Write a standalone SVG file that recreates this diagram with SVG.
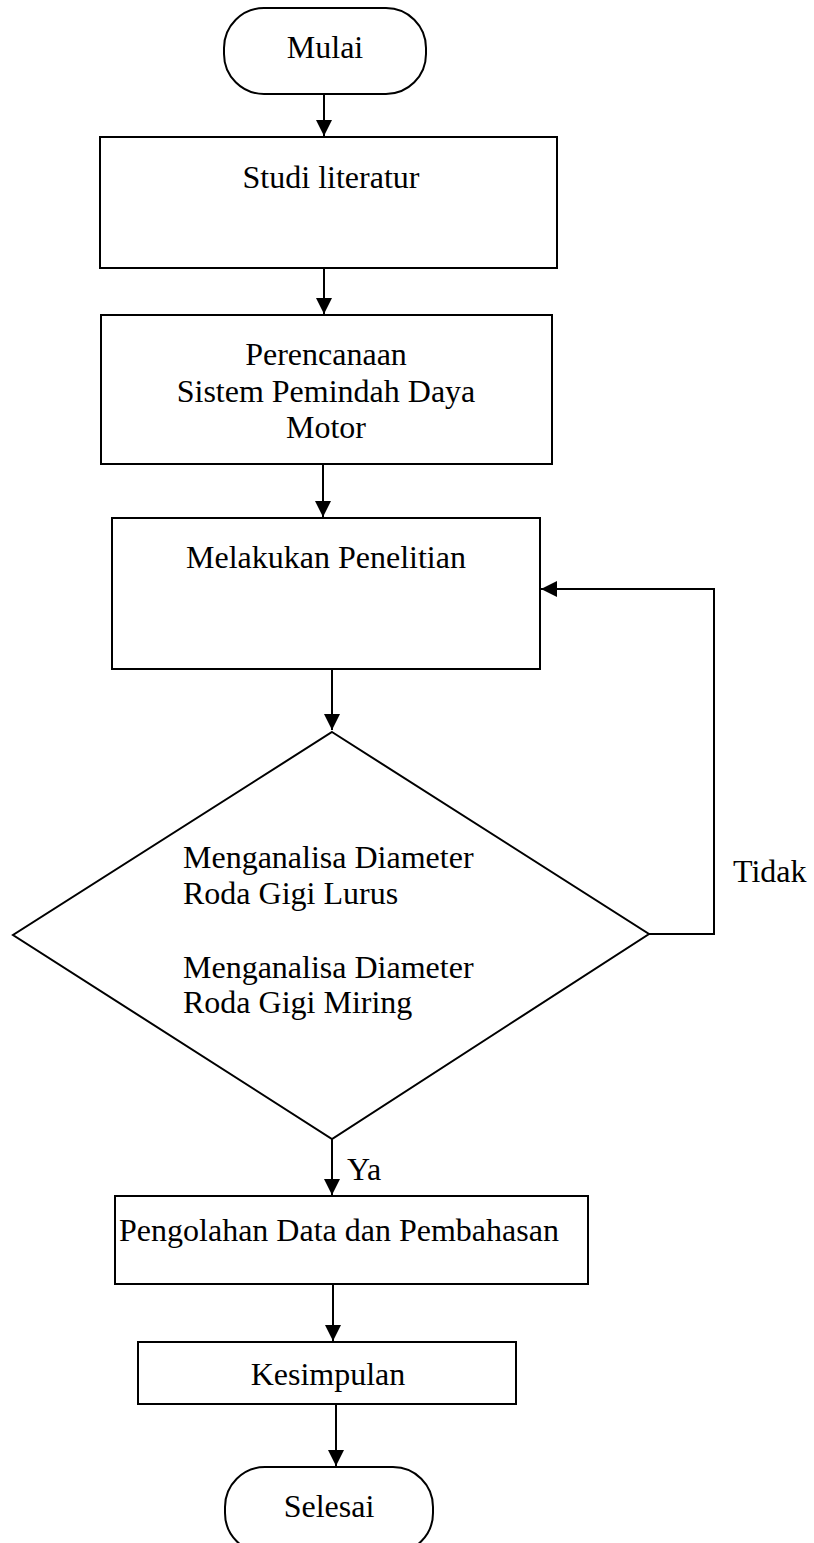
<svg xmlns="http://www.w3.org/2000/svg" width="814" height="1543" viewBox="0 0 814 1543">
<style>
.shape{fill:#fff;stroke:#000;stroke-width:2}
.t{font-family:"Liberation Serif","Times New Roman",serif;font-size:32px;fill:#000}
.c{text-anchor:middle}
.conn{fill:none;stroke:#000;stroke-width:2}
</style>
<defs>
<marker id="arr" viewBox="0 0 16 16" refX="16" refY="8" markerWidth="16" markerHeight="16" markerUnits="userSpaceOnUse" orient="auto">
<path d="M0,0 L16,8 L0,16 Z" fill="#000"/>
</marker>
</defs>
<rect width="814" height="1543" fill="#fff"/>
<g id="connectors">
<line class="conn" x1="324" y1="94" x2="324" y2="136" marker-end="url(#arr)"/>
<line class="conn" x1="324" y1="269" x2="324" y2="314" marker-end="url(#arr)"/>
<line class="conn" x1="323" y1="464" x2="323" y2="517" marker-end="url(#arr)"/>
<line class="conn" x1="332" y1="669" x2="332" y2="730" marker-end="url(#arr)"/>
<polyline class="conn" points="649,934 714,934 714,589 541,589" marker-end="url(#arr)"/>
<line class="conn" x1="332" y1="1139" x2="332" y2="1195" marker-end="url(#arr)"/>
<line class="conn" x1="333" y1="1280" x2="333" y2="1341" marker-end="url(#arr)"/>
<line class="conn" x1="336" y1="1400" x2="336" y2="1466" marker-end="url(#arr)"/>
<text class="t" x="733" y="882">Tidak</text>
<text class="t" x="347" y="1180">Ya</text>
</g>
<g id="mulai">
<rect class="shape" x="224" y="8" width="202" height="86" rx="40" ry="40"/>
<text class="t c" x="325" y="58">Mulai</text>
</g>
<g id="studi">
<rect class="shape" x="100" y="137" width="457" height="131"/>
<text class="t c" x="331" y="188">Studi literatur</text>
</g>
<g id="perencanaan">
<rect class="shape" x="101" y="315" width="451" height="149"/>
<text class="t c" x="326" y="365">Perencanaan</text>
<text class="t c" x="326" y="402">Sistem Pemindah Daya</text>
<text class="t c" x="326" y="438">Motor</text>
</g>
<g id="penelitian">
<rect class="shape" x="112" y="518" width="428" height="151"/>
<text class="t c" x="326" y="568">Melakukan Penelitian</text>
</g>
<g id="keputusan">
<polygon class="shape" points="332,732 649,934 332,1139 13,935"/>
<text class="t" x="183" y="868">Menganalisa Diameter</text>
<text class="t" x="183" y="904">Roda Gigi Lurus</text>
<text class="t" x="183" y="978">Menganalisa Diameter</text>
<text class="t" x="183" y="1013">Roda Gigi Miring</text>
</g>
<g id="pengolahan">
<rect class="shape" x="115" y="1196" width="473" height="88"/>
<text class="t c" x="339" y="1241">Pengolahan Data dan Pembahasan</text>
</g>
<g id="kesimpulan">
<rect class="shape" x="138" y="1342" width="378" height="62"/>
<text class="t c" x="328" y="1385">Kesimpulan</text>
</g>
<g id="selesai">
<rect class="shape" x="225" y="1467" width="208" height="86" rx="40" ry="40"/>
<text class="t c" x="329" y="1517">Selesai</text>
</g>
</svg>
